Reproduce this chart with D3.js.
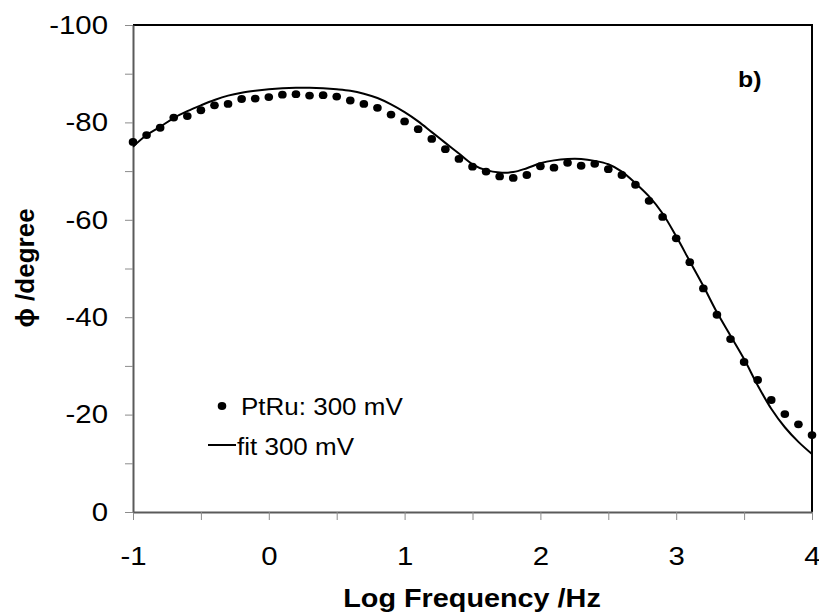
<!DOCTYPE html>
<html lang="en">
<head>
  <meta charset="UTF-8" />
  <title>Phase angle vs log frequency</title>
  <script src="https://d3js.org/d3.v7.min.js"></script>
  <style>
    body {
      background: white;
      margin: 0;
      padding: 0;
      overflow: hidden;
      font-family: "Liberation Sans", Arial, sans-serif;
    }
  </style>
</head>
<body>
  <div id="viz"></div>
  <script>
    // measured points (PtRu, 300 mV)
    const logFreq = [
      -1.0, -0.9, -0.8, -0.7, -0.6, -0.5, -0.4, -0.3, -0.2, -0.1,
      0.0, 0.1, 0.2, 0.3, 0.4, 0.5, 0.6, 0.7, 0.8, 0.9,
      1.0, 1.1, 1.2, 1.3, 1.4, 1.5, 1.6, 1.7, 1.8, 1.9,
      2.0, 2.1, 2.2, 2.3, 2.4, 2.5, 2.6, 2.7, 2.8, 2.9,
      3.0, 3.1, 3.2, 3.3, 3.4, 3.5, 3.6, 3.7, 3.8, 3.9, 4.0
    ];
    const phase = [
      -76.0, -77.4, -78.9, -81.0, -81.3, -82.5, -83.5, -83.8, -84.8, -84.9,
      -85.2, -85.7, -85.8, -85.5, -85.6, -85.3, -84.5, -83.8, -83.0, -81.6,
      -80.2, -78.6, -76.6, -74.5, -72.5, -70.9, -69.9, -68.9, -68.6, -69.2,
      -71.0, -70.7, -71.7, -71.1, -71.5, -70.4, -69.2, -67.2, -63.9, -60.6,
      -56.2, -51.3, -45.9, -40.5, -35.5, -30.8, -27.1, -23.0, -20.1, -18.0, -15.8
    ];

    // fitted curve (fit 300 mV), same frequencies
    const fitPhase = [
      -75.0, -77.4, -79.1, -80.9, -82.3, -83.5, -84.6, -85.5, -86.1, -86.5,
      -86.8, -87.0, -87.1, -87.1, -87.0, -86.8, -86.5, -85.9, -85.0, -83.7,
      -82.1, -80.2, -78.0, -75.8, -73.6, -71.4, -70.2, -69.7, -69.8, -70.6,
      -71.6, -72.2, -72.5, -72.5, -72.1, -71.4, -69.9, -67.5, -64.8, -61.3,
      -56.6, -51.5, -46.4, -41.0, -36.2, -31.4, -26.0, -21.2, -17.4, -14.4, -11.9
    ];

    const xTicks = [-1, -0.5, 0, 0.5, 1, 1.5, 2, 2.5, 3, 3.5, 4];
    const yTicks = [-100, -90, -80, -70, -60, -50, -40, -30, -20, -10, 0];

    const width = 819, height = 612;
    const sx = 1.13; // the source picture is stretched sideways a little

    const svg = d3.select("#viz").append("svg")
      .attr("width", width)
      .attr("height", height)
      .style("font-family", "'Liberation Sans', Arial, sans-serif");

    const x = d3.scaleLinear().domain([-1, 4]).range([133, 812]);
    const y = d3.scaleLinear().domain([-100, 0]).range([25, 512]);

    // frame top and right
    svg.append("path")
      .attr("d", `M${x(-1)},${y(-100)}H${x(4)}V${y(0)}`)
      .attr("fill", "none")
      .attr("stroke", "#000")
      .attr("stroke-width", 2);

    const xAxis = svg.append("g")
      .attr("transform", `translate(0,${y(0)})`)
      .call(d3.axisBottom(x)
        .tickValues(xTicks)
        .tickSize(8)
        .tickSizeOuter(0)
        .tickFormat(d => Number.isInteger(d) ? (d < 0 ? "-" + Math.abs(d) : d) : ""));

    const yAxis = svg.append("g")
      .attr("transform", `translate(${x(-1)},0)`)
      .call(d3.axisLeft(y)
        .tickValues(yTicks)
        .tickSize(8)
        .tickSizeOuter(0)
        .tickFormat(d => d % 20 === 0 ? (d < 0 ? "-" + Math.abs(d) : d) : ""));

    [xAxis, yAxis].forEach(g => {
      g.select(".domain").attr("stroke", "#5a5a5a").attr("stroke-width", 2);
      g.selectAll(".tick line").attr("stroke", "#8c8c8c").attr("stroke-width", 1);
      g.selectAll(".tick text")
        .attr("fill", "#000")
        .style("font-size", "26px")
        .style("font-family", "'Liberation Sans', Arial, sans-serif");
    });

    xAxis.selectAll(".tick text")
      .attr("y", 53)
      .attr("dy", null)
      .attr("transform", `scale(${sx},1)`);

    yAxis.selectAll(".tick text")
      .attr("x", null)
      .attr("transform", `translate(-25,0) scale(${sx},1)`);

    // fit line
    const line = d3.line()
      .x((d, i) => x(logFreq[i]))
      .y(d => y(d))
      .curve(d3.curveCatmullRom.alpha(0.5));

    svg.append("path")
      .datum(fitPhase)
      .attr("d", line)
      .attr("fill", "none")
      .attr("stroke", "#000")
      .attr("stroke-width", 2);

    // data points
    svg.selectAll(".pt")
      .data(phase)
      .enter()
      .append("ellipse")
      .attr("class", "pt")
      .attr("cx", (d, i) => x(logFreq[i]))
      .attr("cy", d => y(d))
      .attr("rx", 4.3)
      .attr("ry", 3.9)
      .attr("fill", "#000");

    // axis titles
    svg.append("text")
      .attr("transform", `translate(472,607) scale(${sx},1)`)
      .attr("text-anchor", "middle")
      .style("font-size", "25.5px")
      .style("font-weight", "bold")
      .text("Log Frequency /Hz");

    svg.append("text")
      .attr("transform", "translate(34,268) rotate(-90)")
      .attr("text-anchor", "middle")
      .style("font-size", "26px")
      .style("font-weight", "bold")
      .text("ϕ /degree");

    svg.append("text")
      .attr("transform", `translate(738,87) scale(${sx},1)`)
      .style("font-size", "22px")
      .style("font-weight", "bold")
      .text("b)");

    // legend
    const legend = svg.append("g");
    legend.append("ellipse")
      .attr("cx", 222).attr("cy", 406)
      .attr("rx", 4.3).attr("ry", 3.9)
      .attr("fill", "#000");
    legend.append("text")
      .attr("transform", `translate(241,415) scale(${sx},1)`)
      .style("font-size", "23px")
      .text("PtRu: 300 mV");
    legend.append("line")
      .attr("x1", 208).attr("x2", 236)
      .attr("y1", 445).attr("y2", 445)
      .attr("stroke", "#000")
      .attr("stroke-width", 2);
    legend.append("text")
      .attr("transform", `translate(237,455) scale(${sx},1)`)
      .style("font-size", "23px")
      .text("fit 300 mV");
  </script>
</body>
</html>
